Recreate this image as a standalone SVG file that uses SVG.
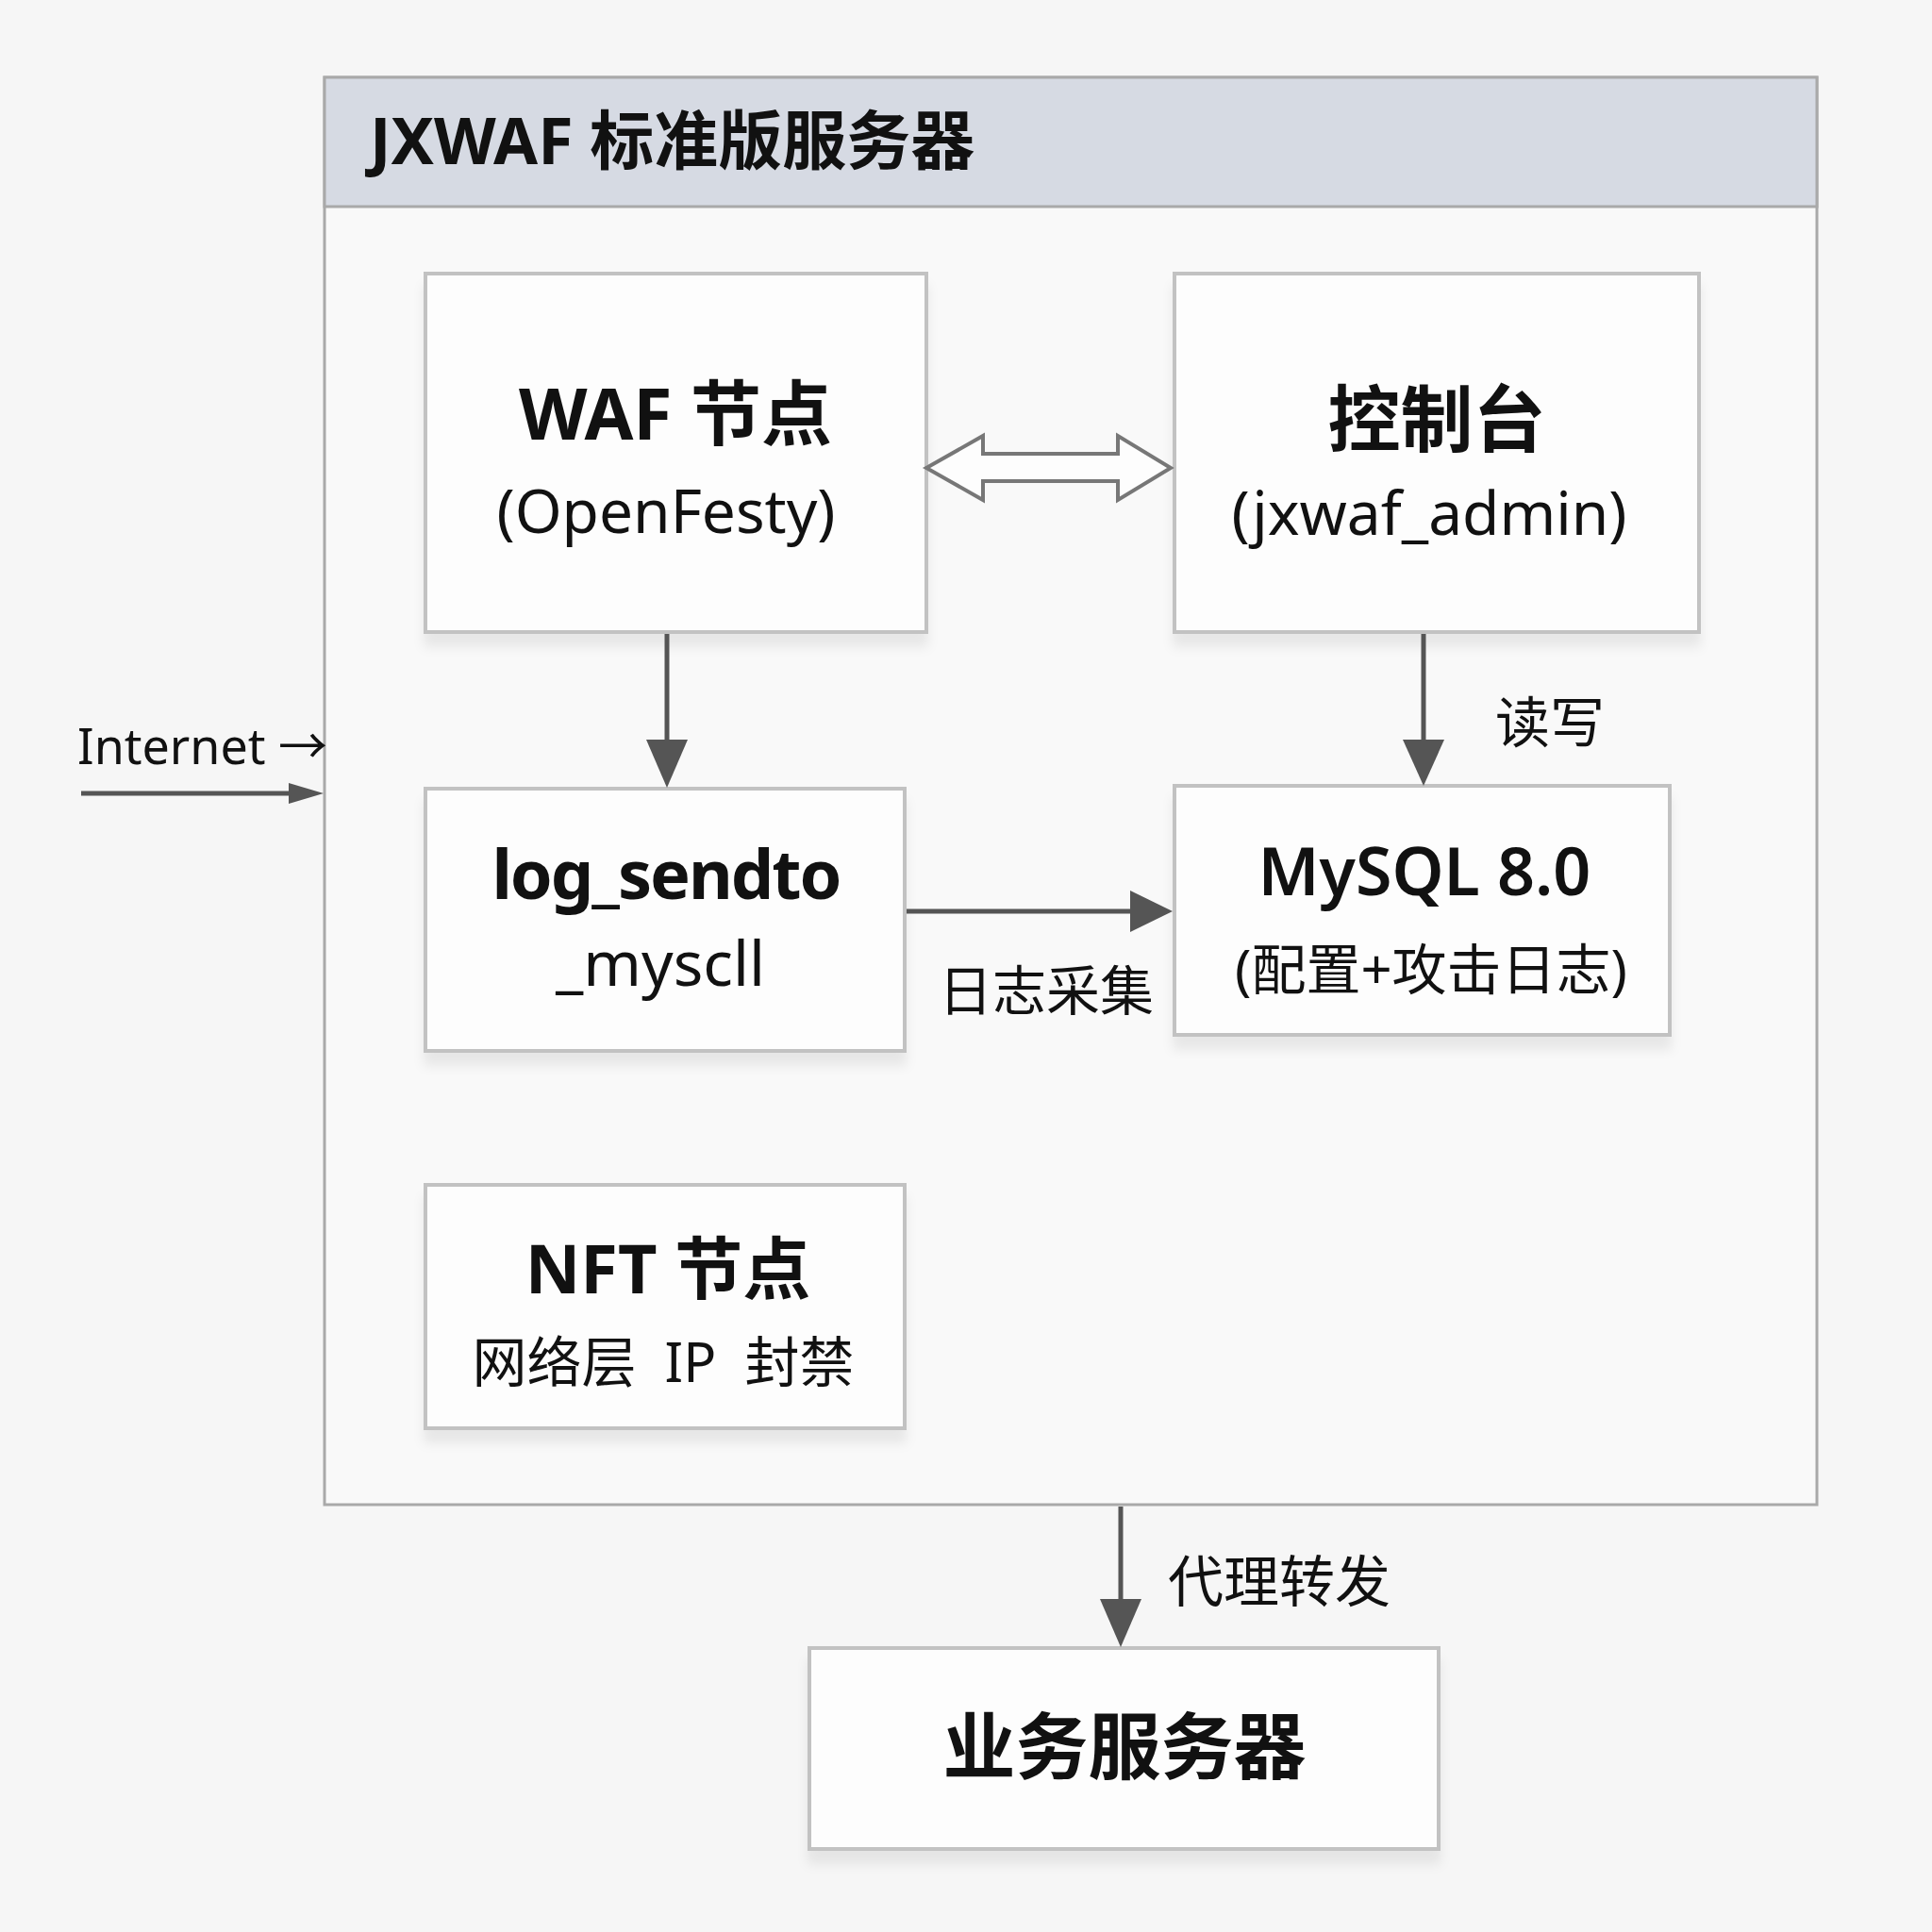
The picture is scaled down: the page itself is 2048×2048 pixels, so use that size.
<svg xmlns="http://www.w3.org/2000/svg" width="2048" height="2048" viewBox="0 0 2048 2048">
<defs>
<style>
.t{font-family:"Noto Sans","Noto Sans CJK SC",sans-serif;fill:#111;}
.b{font-weight:bold;}
.box{fill:#fdfdfd;stroke:#c2c2c2;stroke-width:4;}
.conn{stroke:#555;stroke-width:5;fill:none;}
</style>
<filter id="sh" x="-10%" y="-10%" width="120%" height="130%">
<feDropShadow dx="0" dy="14" stdDeviation="6" flood-color="#000" flood-opacity="0.07"/>
</filter>
<marker id="ah" viewBox="0 0 10 10" refX="10" refY="5" markerWidth="9" markerHeight="9" markerUnits="userSpaceOnUse" orient="auto">
<path d="M0,0 L10,5 L0,10 z" fill="#555"/>
</marker>
</defs>
<rect width="2048" height="2048" fill="#f6f6f6"/>
<g id="container">
<rect x="344" y="82" width="1582" height="1513" fill="#f9f9f9" stroke="#a9a9a9" stroke-width="3"/>
<rect x="344" y="82" width="1582" height="137" fill="#d6dae3" stroke="#a9a9a9" stroke-width="3"/>
<text class="t b" x="392" y="174" font-size="68">JXWAF 标准版服务器</text>
</g>
<g id="waf">
<rect class="box" x="451" y="290" width="531" height="380" filter="url(#sh)"/>
<text class="t b" x="716" y="466" font-size="75" text-anchor="middle">WAF 节点</text>
<text class="t" x="706" y="565" font-size="64" text-anchor="middle">(OpenFesty)</text>
</g>
<g id="console">
<rect class="box" x="1245" y="290" width="556" height="380" filter="url(#sh)"/>
<text class="t b" x="1523" y="473" font-size="77" text-anchor="middle">控制台</text>
<text class="t" x="1515" y="567" font-size="64" text-anchor="middle">(jxwaf_admin)</text>
</g>
<g id="logsend">
<rect class="box" x="451" y="836" width="508" height="278" filter="url(#sh)"/>
<text class="t b" x="706" y="953" font-size="72" text-anchor="middle" letter-spacing="-2">log_sendto</text>
<text class="t" x="700" y="1045" font-size="66" text-anchor="middle">_myscll</text>
</g>
<g id="mysql">
<rect class="box" x="1245" y="833" width="525" height="264" filter="url(#sh)"/>
<text class="t" x="1510" y="949" font-size="70" text-anchor="middle" font-weight="600">MySQL 8.0</text>
<text class="t" x="1517" y="1049" font-size="58" text-anchor="middle">(配置+攻击日志)</text>
</g>
<g id="nft">
<rect class="box" x="451" y="1256" width="508" height="258" filter="url(#sh)"/>
<text class="t b" x="708" y="1371" font-size="72" text-anchor="middle">NFT 节点</text>
<text class="t" x="703" y="1465" font-size="58" text-anchor="middle" xml:space="preserve">网络层  IP  封禁</text>
</g>
<g id="business">
<rect class="box" x="858" y="1747" width="667" height="213" filter="url(#sh)"/>
<text class="t b" x="1192" y="1880" font-size="77" text-anchor="middle">业务服务器</text>
</g>
<g id="internet">
<text class="t" x="82" y="810" font-size="52">Internet →</text>
</g>
<g id="connectors">
<polygon points="982,496 1042,462 1042,481 1185,481 1185,462 1241,496 1185,530 1185,510 1042,510 1042,530" fill="#fdfdfd" stroke="#777" stroke-width="4" stroke-linejoin="miter"/>
<line class="conn" x1="707" y1="672" x2="707" y2="790"/>
<polygon points="685,784 729,784 707,835" fill="#555"/>
<line class="conn" x1="1509" y1="672" x2="1509" y2="790"/>
<polygon points="1487,784 1531,784 1509,833" fill="#555"/>
<line class="conn" x1="961" y1="966" x2="1200" y2="966"/>
<polygon points="1198,944 1198,988 1243,966" fill="#555"/>
<line class="conn" x1="86" y1="841" x2="310" y2="841"/>
<polygon points="306,830 306,852 343,841" fill="#555"/>
<line class="conn" x1="1188" y1="1597" x2="1188" y2="1700"/>
<polygon points="1166,1695 1210,1695 1188,1746" fill="#555"/>
<text class="t" x="1585" y="787" font-size="58">读写</text>
<text class="t" x="995" y="1071" font-size="57">日志采集</text>
<text class="t" x="1238" y="1698" font-size="59">代理转发</text>
</g>
</svg>
